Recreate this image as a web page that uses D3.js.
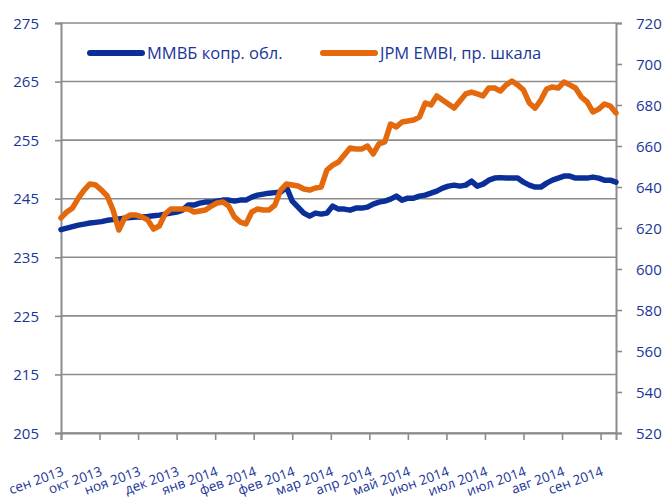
<!DOCTYPE html>
<html>
<head>
<meta charset="utf-8">
<script src="https://cdn.jsdelivr.net/npm/d3@7"></script>
<style>
  body { margin: 0; background: #fff; }
  text { font-family: "Open Sans", sans-serif; fill: #1a3597; }
</style>
</head>
<body>
<div id="chart"></div>
<script>
// one sample every 3 trading days
const dayStep = 3;

// ММВБ корп. облигации, left scale
const micexValues = [
  239.73, 239.98, 240.24, 240.49, 240.66, 240.84, 240.96, 241.09, 241.31, 241.43,
  241.55, 241.69, 241.77, 241.86, 241.89, 241.95, 242.08, 242.20, 242.37, 242.54,
  242.71, 243.05, 243.91, 243.91, 244.25, 244.42, 244.42, 244.59, 244.76, 244.76,
  244.59, 244.76, 244.76, 245.27, 245.61, 245.78, 245.95, 246.04, 246.13, 246.98,
  244.59, 243.57, 242.54, 242.03, 242.54, 242.37, 242.54, 243.74, 243.23, 243.23,
  243.05, 243.40, 243.40, 243.57, 244.08, 244.42, 244.59, 244.93, 245.44, 244.76,
  245.10, 245.10, 245.44, 245.61, 245.96, 246.30, 246.81, 247.15, 247.32, 247.15,
  247.32, 248.00, 247.15, 247.49, 248.17, 248.52, 248.60, 248.52, 248.52, 248.52,
  247.83, 247.32, 246.98, 246.98, 247.66, 248.17, 248.52, 248.86, 248.86, 248.52,
  248.52, 248.52, 248.69, 248.52, 248.17, 248.17, 247.83
];

// JPM EMBI, right scale
const embiValues = [
  624.9, 627.8, 629.8, 634.6, 638.5, 641.5, 641.0, 638.5, 635.6, 628.8,
  619.0, 624.9, 626.3, 626.3, 625.4, 623.9, 619.5, 621.0, 626.8, 629.3,
  629.3, 629.3, 629.3, 627.8, 628.3, 628.8, 630.7, 632.2, 632.7, 630.7,
  625.4, 622.9, 622.0, 627.8, 629.3, 628.8, 628.8, 631.2, 638.5, 641.5,
  641.0, 640.5, 639.0, 638.5, 639.5, 640.0, 648.3, 650.7, 652.2, 655.6,
  659.0, 658.5, 658.5, 660.0, 656.1, 661.0, 662.0, 670.7, 669.3, 671.7,
  672.2, 672.7, 674.1, 681.0, 680.0, 684.4, 682.4, 680.5, 678.5, 682.0,
  685.4, 686.3, 685.4, 684.4, 688.3, 688.3, 686.8, 689.8, 691.7, 689.8,
  687.3, 681.0, 678.5, 682.4, 687.8, 688.8, 688.3, 691.2, 689.8, 688.3,
  683.9, 681.5, 676.6, 678.0, 680.5, 679.5, 676.1
];

const tickLabels = ["сен 2013", "окт 2013", "ноя 2013", "дек 2013", "янв 2014", "фев 2014", "фев 2014",
  "мар 2014", "апр 2014", "май 2014", "июн 2014", "июл 2014", "июл 2014", "авг 2014", "сен 2014"];
const tickDays = [0, 20, 40, 60, 80, 100, 120, 140, 160, 180, 200, 220, 240, 260, 280];
const leftTicks = [205, 215, 225, 235, 245, 255, 265, 275];
const rightTicks = [520, 540, 560, 580, 600, 620, 640, 660, 680, 700, 720];
const seriesNames = ["ММВБ копр. обл.", "JPM EMBI, пр. шкала"];

let margin = { top: 23, left: 61, right: 52, bottom: 66 },
  width = 668 - margin.left - margin.right,
  height = 499 - margin.top - margin.bottom;

const blue = "#0a2f98", orange = "#e4690c", grid = "#8c8c8c";

let svg = d3.select("#chart").append("svg")
  .attr("width", 668)
  .attr("height", 499);

let g = svg.append("g")
  .attr("transform", "translate(" + margin.left + "," + margin.top + ")");

let x = d3.scaleLinear().domain([0, (micexValues.length - 1) * dayStep]).range([0, width]);
let yLeft = d3.scaleLinear().domain([205, 275]).range([height, 0]);
let yRight = d3.scaleLinear().domain([520, 720]).range([height, 0]);

// horizontal gridlines follow left scale
g.selectAll("line.grid")
  .data(leftTicks)
  .enter().append("line")
  .attr("class", "grid")
  .attr("x1", 0).attr("x2", width)
  .attr("y1", d => yLeft(d)).attr("y2", d => yLeft(d))
  .attr("stroke", grid)
  .attr("stroke-width", 1.6);

// left axis
let leftAxis = g.append("g")
  .call(d3.axisLeft(yLeft).tickValues(leftTicks).tickSize(6).tickPadding(16));

// right axis
let rightAxis = g.append("g")
  .attr("transform", "translate(" + width + ",0)")
  .call(d3.axisRight(yRight).tickValues(rightTicks).tickSize(6).tickPadding(14));

// bottom axis
let bottomAxis = g.append("g")
  .attr("transform", "translate(0," + height + ")")
  .call(d3.axisBottom(x).tickValues(tickDays).tickSize(7).tickFormat((d, i) => tickLabels[i]));

bottomAxis.selectAll("text")
  .attr("text-anchor", "end")
  .attr("dy", 0)
  .attr("y", 0)
  .attr("transform", "translate(3,42) rotate(-20)");

[leftAxis, rightAxis, bottomAxis].forEach(a => {
  a.selectAll("path").attr("stroke", grid).attr("stroke-width", 2);
  a.selectAll("line").attr("stroke", grid).attr("stroke-width", 1.6);
  a.selectAll("text").style("font-size", "15px").attr("fill", "#1a3597");
});
bottomAxis.selectAll("text").style("font-size", "13.5px");
leftAxis.selectAll("text").attr("dy", "0.35em");
rightAxis.selectAll("text").attr("dy", "0.35em");

// lines
let lineLeft = d3.line()
  .x((d, i) => x(i * dayStep))
  .y(d => yLeft(d));

let lineRight = d3.line()
  .x((d, i) => x(i * dayStep))
  .y(d => yRight(d));

g.append("path")
  .datum(micexValues)
  .attr("d", lineLeft)
  .attr("fill", "none")
  .attr("stroke", blue)
  .attr("stroke-width", 5.5)
  .attr("stroke-linejoin", "round")
  .attr("stroke-linecap", "round");

g.append("path")
  .datum(embiValues)
  .attr("d", lineRight)
  .attr("fill", "none")
  .attr("stroke", orange)
  .attr("stroke-width", 5.5)
  .attr("stroke-linejoin", "round")
  .attr("stroke-linecap", "round");

// legend
let legend = svg.append("g");
let legendItems = [
  { name: seriesNames[0], color: blue, x: 90 },
  { name: seriesNames[1], color: orange, x: 323 }
];
legendItems.forEach(item => {
  legend.append("line")
    .attr("x1", item.x).attr("x2", item.x + 52)
    .attr("y1", 53).attr("y2", 53)
    .attr("stroke", item.color)
    .attr("stroke-width", 6)
    .attr("stroke-linecap", "round");
  legend.append("text")
    .attr("x", item.x + 57)
    .attr("y", 59)
    .style("font-size", "16.5px")
    .text(item.name);
});
</script>
</body>
</html>
